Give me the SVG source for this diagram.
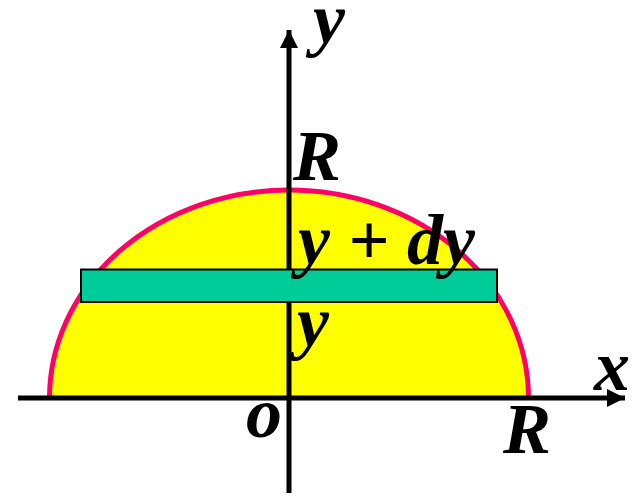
<svg xmlns="http://www.w3.org/2000/svg" width="640" height="496" viewBox="0 0 640 496">
<style>
.lbl{font-family:"Liberation Serif","Times New Roman",serif;font-weight:bold;font-style:italic;font-size:72px;fill:#000}
.ax{stroke:#000;stroke-width:5;fill:none}
</style>
<defs>
<marker id="arr" markerUnits="userSpaceOnUse" markerWidth="20" markerHeight="20" refX="18" refY="9" orient="auto">
<path d="M0,0 L18,9 L0,18 Z" fill="#000"/>
</marker>
</defs>
<g id="half-disk">
<path d="M49.5,398 A239.5,208 0 0 1 528.5,398 Z" fill="#FFFF00" stroke="none"/>
<path d="M49.5,398 A239.5,208 0 0 1 528.5,398" fill="none" stroke="#FF0066" stroke-width="5"/>
</g>
<g id="connectors">
<line class="ax" x1="18" y1="398" x2="625" y2="398" marker-end="url(#arr)"/>
<line class="ax" x1="289" y1="493" x2="289" y2="30" marker-end="url(#arr)"/>
</g>
<g id="strip">
<rect x="81" y="269.5" width="416" height="32.5" fill="#00CC99" stroke="#000" stroke-width="2"/>
</g>
<g id="labels">
<text class="lbl" x="313" y="43">y</text>
<text class="lbl" x="293" y="180">R</text>
<text class="lbl" x="298" y="264" xml:space="preserve">y + dy</text>
<text class="lbl" x="297" y="346">y</text>
<text class="lbl" x="594" y="390">x</text>
<text class="lbl" x="246" y="437">o</text>
<text class="lbl" x="503" y="453">R</text>
</g>
</svg>
